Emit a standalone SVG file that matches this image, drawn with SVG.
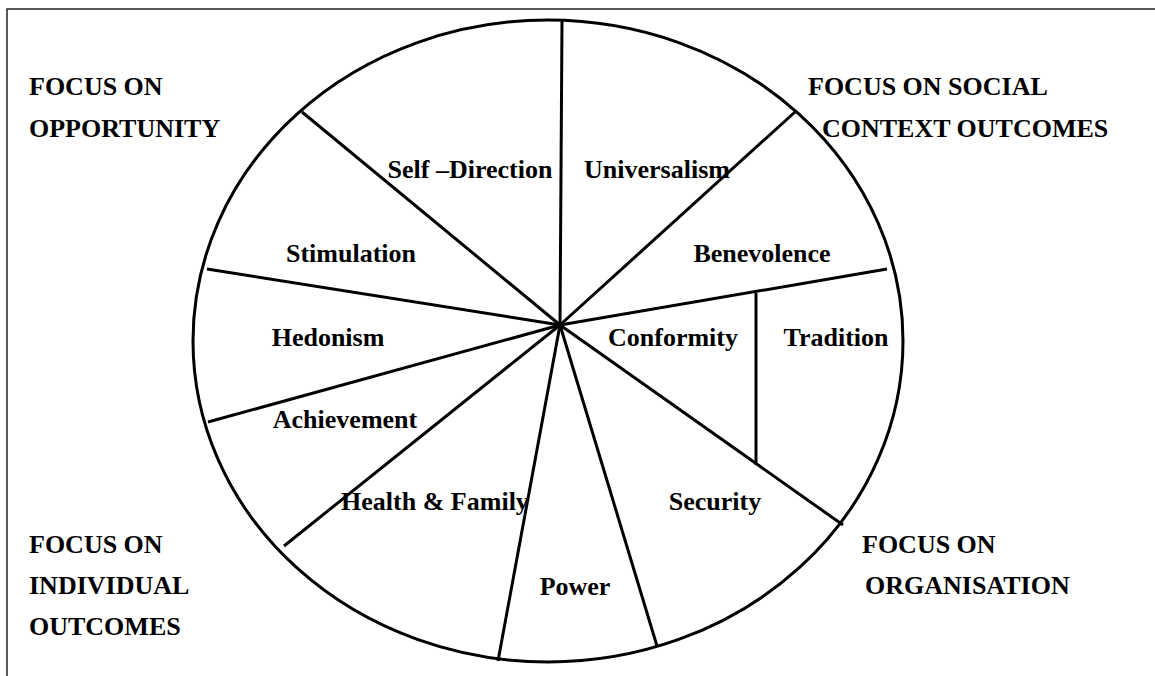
<svg xmlns="http://www.w3.org/2000/svg" width="1155" height="676" viewBox="0 0 1155 676">
  <style>
    .frame { fill: none; stroke: #222; stroke-width: 1.5; }
    .ring { fill: none; stroke: #000; stroke-width: 3; }
    .spoke { stroke: #000; stroke-width: 3; stroke-linecap: butt; }
    text { font-family: "Liberation Serif", "Times New Roman", serif; font-weight: bold; fill: #000; }
    .corner { font-size: 26px; }
    .value { font-size: 26px; text-anchor: middle; }
  </style>

  <!-- open frame: top and left edges -->
  <path class="frame" d="M7,676 V9 H1155"/>

  <!-- corner headings -->
  <g id="focus-opportunity">
    <text class="corner" x="29" y="95">FOCUS ON</text>
    <text class="corner" x="29" y="137">OPPORTUNITY</text>
  </g>
  <g id="focus-social-context">
    <text class="corner" x="808" y="95">FOCUS ON SOCIAL</text>
    <text class="corner" x="822" y="137">CONTEXT OUTCOMES</text>
  </g>
  <g id="focus-individual">
    <text class="corner" x="29" y="553">FOCUS ON</text>
    <text class="corner" x="29" y="594">INDIVIDUAL</text>
    <text class="corner" x="29" y="635">OUTCOMES</text>
  </g>
  <g id="focus-organisation">
    <text class="corner" x="862" y="553">FOCUS ON</text>
    <text class="corner" x="865" y="594">ORGANISATION</text>
  </g>

  <!-- value wheel -->
  <g id="wheel">
    <ellipse class="ring" cx="548" cy="341" rx="355" ry="321"/>
  </g>

  <g id="connectors">
    <line class="spoke" x1="560" y1="325" x2="562" y2="21"/>
    <line class="spoke" x1="560" y1="325" x2="795" y2="112"/>
    <line class="spoke" x1="560" y1="325" x2="887" y2="269"/>
    <line class="spoke" x1="560" y1="325" x2="843" y2="525"/>
    <line class="spoke" x1="560" y1="325" x2="657" y2="646"/>
    <line class="spoke" x1="560" y1="325" x2="498" y2="661"/>
    <line class="spoke" x1="560" y1="325" x2="284" y2="546"/>
    <line class="spoke" x1="560" y1="325" x2="208" y2="422"/>
    <line class="spoke" x1="560" y1="325" x2="207" y2="269"/>
    <line class="spoke" x1="560" y1="325" x2="302" y2="112"/>
    <!-- divider between Conformity and Tradition -->
    <line class="spoke" x1="756" y1="293" x2="756" y2="465"/>
  </g>

  <g id="self-direction"><text class="value" x="470" y="178">Self –Direction</text></g>
  <g id="universalism"><text class="value" x="657" y="178">Universalism</text></g>
  <g id="stimulation"><text class="value" x="351" y="262">Stimulation</text></g>
  <g id="benevolence"><text class="value" x="762" y="262">Benevolence</text></g>
  <g id="hedonism"><text class="value" x="328" y="346">Hedonism</text></g>
  <g id="conformity"><text class="value" x="673" y="346">Conformity</text></g>
  <g id="tradition"><text class="value" x="836" y="346">Tradition</text></g>
  <g id="achievement"><text class="value" x="345" y="428">Achievement</text></g>
  <g id="health-family"><text class="value" x="435" y="510">Health &amp; Family</text></g>
  <g id="security"><text class="value" x="715" y="510">Security</text></g>
  <g id="power"><text class="value" x="575" y="595">Power</text></g>
</svg>
